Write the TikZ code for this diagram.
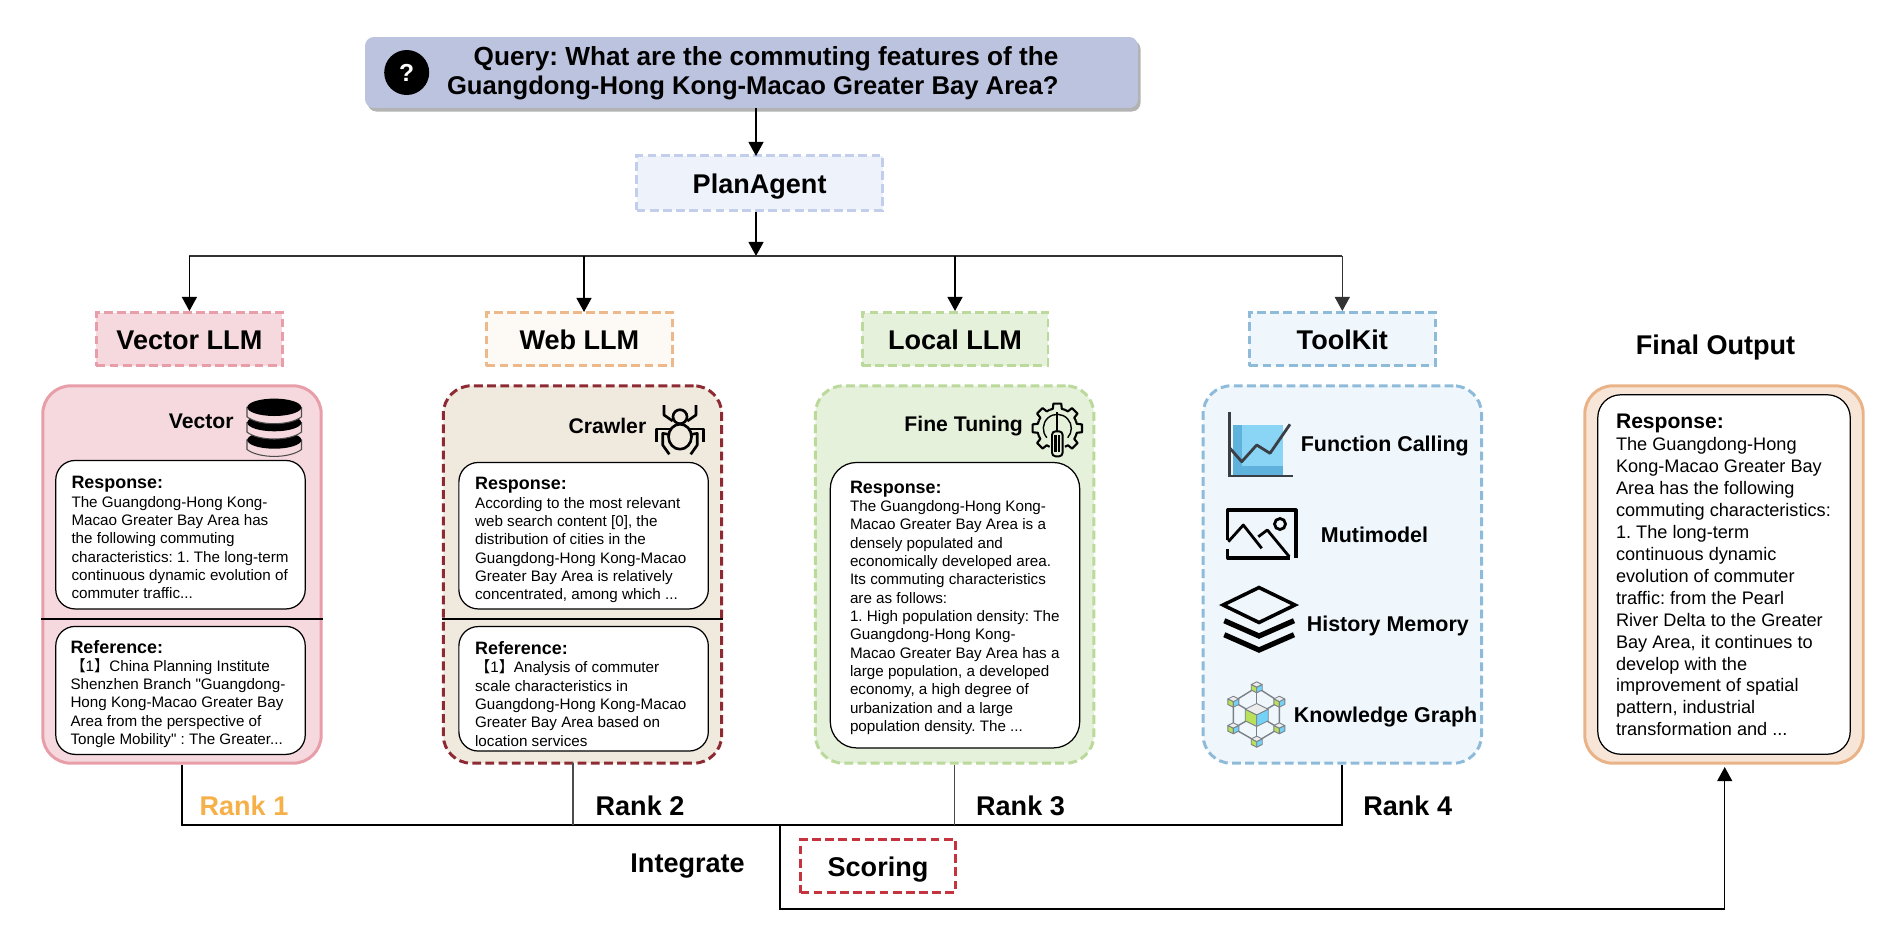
\documentclass[tikz,border=0pt]{standalone}
\usepackage{fontspec}
\setmainfont{Liberation Sans}
\newfontfamily\plainquote{Liberation Sans}
\newfontfamily\cjk{Noto Sans CJK SC}
\usetikzlibrary{arrows.meta,positioning,calc,shadows}
\frenchspacing

\definecolor{querybg}{HTML}{BCC3DF}
\definecolor{planbg}{HTML}{EEF2FB}
\definecolor{planedge}{HTML}{C3CEEC}
\definecolor{vecbg}{HTML}{F5D9DE}
\definecolor{vecedge}{HTML}{E79EA9}
\definecolor{webbg}{HTML}{FDF9F4}
\definecolor{webedge}{HTML}{EEB98A}
\definecolor{crawlbg}{HTML}{F0E9DE}
\definecolor{crawledge}{HTML}{8E2A33}
\definecolor{localbg}{HTML}{E5F1DA}
\definecolor{localedge}{HTML}{BAD99A}
\definecolor{toolbg}{HTML}{EFF7FC}
\definecolor{tooledge}{HTML}{8FBBDB}
\definecolor{finalbg}{HTML}{F7E6D8}
\definecolor{finaledge}{HTML}{E9B287}
\definecolor{scoreedge}{HTML}{C5333F}
\definecolor{rankone}{HTML}{F5B04A}
\definecolor{chartlight}{HTML}{8AD4F5}
\definecolor{chartdark}{HTML}{5FB2DC}
\definecolor{chartline}{HTML}{3A3F45}
\definecolor{cubegrey}{HTML}{7A8088}

% small cube of the knowledge graph: position, size
\newcommand{\kgcube}[2]{
  \begin{scope}[shift={(#1)}, line width=0.5pt, draw=cubegrey, line join=round]
    \filldraw[fill=gray!15] (0,-#2) -- (#2,-#2/2) -- (0,0) -- (-#2,-#2/2) -- cycle;
    \filldraw[fill=yellow!60!green!70] (-#2,-#2/2) -- (0,0) -- (0,#2) -- (-#2,#2/2) -- cycle;
    \filldraw[fill=cyan!55] (#2,-#2/2) -- (0,0) -- (0,#2) -- (#2,#2/2) -- cycle;
  \end{scope}
}

\begin{document}
\begin{tikzpicture}[
    x=0.02cm, y=-0.02cm,
    dashedge/.style={line width=1.7pt, dash pattern=on 5pt off 2.5pt},
    head/.style={font=\fontsize{15.4pt}{18pt}\bfseries\selectfont, text height=12pt, text depth=0pt},
    llmbox/.style={rectangle, draw, dashedge, head, minimum width=3.72cm, minimum height=1.06cm},
    panel/.style={rectangle, rounded corners=16pt, line width=1.7pt, minimum width=5.57cm, minimum height=7.55cm},
    respbox/.style={rectangle, draw, fill=white, line width=0.7pt, rounded corners=11pt, minimum width=4.99cm},
    resptext/.style={align=left, inner sep=0pt, font=\fontsize{8.65pt}{10.43pt}\selectfont},
    smallhead/.style={font=\fontsize{12.05pt}{14pt}\bfseries\selectfont},
    toollabel/.style={font=\fontsize{12.2pt}{14pt}\bfseries\selectfont},
    arrow/.style={-{Triangle[length=8pt, width=8.5pt]}, line width=0.9pt},
    rankline/.style={line width=1.1pt},
    thinline/.style={line width=0.6pt, black!70}
]

\useasboundingbox (0,0) rectangle (1882,940);

\newcommand{\resphead}{{\fontsize{10.2pt}{12pt}\bfseries\selectfont Response:}}
\newcommand{\refhead}{{\fontsize{10.2pt}{12pt}\bfseries\selectfont Reference:}}

% Query
\node[rectangle, fill=querybg, rounded corners=5pt, minimum width=15.46cm, minimum height=1.42cm,
    drop shadow={opacity=0.6, shadow xshift=1.5pt, shadow yshift=-2pt}] (query) at (751.5,72.5) {};
\node[circle, fill=black, text=white, minimum size=0.9cm, inner sep=0pt, font=\fontsize{14pt}{14pt}\bfseries\selectfont] (qmark) at (406.7,72.5) {?};
\node[anchor=east, align=right, inner sep=0pt, font=\fontsize{14.6pt}{16.7pt}\bfseries\selectfont] (qtext) at (1058.8,73) {{\fontsize{14.9pt}{16.7pt}\selectfont Query: What are the commuting features of the}\\Guangdong-Hong Kong-Macao Greater Bay Area?};

% Plan agent
\node[llmbox, fill=planbg, draw=planedge, minimum width=4.92cm, minimum height=1.1cm] (plan) at (759.6,183) {PlanAgent};

% LLM headers
\node[llmbox, fill=vecbg, draw=vecedge] (vecllm) at (189.4,339) {Vector LLM};
\node[llmbox, fill=webbg, draw=webedge] (webllm) at (579.4,339) {Web LLM};
\node[llmbox, fill=localbg, draw=localedge] (localllm) at (955,339) {Local LLM};
\node[llmbox, fill=toolbg, draw=tooledge] (toolllm) at (1342.3,339) {ToolKit};
\node[head] (finalhead) at (1715.5,344) {Final Output};

% Connectors at the top
\coordinate (planin) at (756,156);
\coordinate (topbus) at (756,256);
\coordinate (webin) at (584,312);
\draw[arrow] (planin |- query.south) -- (planin);
\draw[arrow] (planin |- plan.south) -- (topbus);
\draw[rankline, black!80] (vecllm.north |- topbus) -- (toolllm.north |- topbus);
\draw[arrow] (vecllm.north |- topbus) -- (vecllm.north);
\draw[arrow] (webin |- topbus) -- (webin);
\draw[arrow] (localllm.north |- topbus) -- (localllm.north);
\draw[arrow, black!80] (toolllm.north |- topbus) -- (toolllm.north);

% Panels
\node[panel, draw=vecedge, fill=vecbg] (vecpanel) at (182,574.5) {};
\node[panel, draw=crawledge, fill=crawlbg, dashedge] (webpanel) at (582.5,574.5) {};
\node[panel, draw=localedge, fill=localbg, dashedge] (localpanel) at (954.6,574.5) {};
\node[panel, draw=tooledge, fill=toolbg, dashedge] (toolpanel) at (1342.3,574.5) {};
\node[panel, draw=finaledge, fill=finalbg] (finalpanel) at (1724,574.5) {};

% Vector panel
\node[smallhead, anchor=east, inner sep=0pt] (veclabel) at (234,421.6) {Vector};
\node[respbox, minimum height=2.97cm] (vecresp) at (180.5,534.7) {};
\node[resptext, right=0.32cm of vecresp.west, yshift=-0.06cm] (vecresptext) {\resphead\\
The Guangdong-Hong Kong-\\Macao Greater Bay Area has\\the following commuting\\characteristics: 1. The long-term\\continuous dynamic evolution of\\commuter traffic...};
\coordinate (vecdiv) at (182,618.8);
\draw[line width=0.9pt] (vecpanel.west |- vecdiv) -- (vecpanel.east |- vecdiv);
\node[respbox, minimum height=2.56cm] (vecref) at (180.5,690.4) {};
\node[resptext, right=0.3cm of vecref.west, yshift=-0.07cm] (vecreftext) {\refhead\\
{\cjk【}1{\cjk】}China Planning Institute\\Shenzhen Branch {\plainquote"}Guangdong-\\Hong Kong-Macao Greater Bay\\Area from the perspective of\\Tongle Mobility{\plainquote"} : The Greater...};

% Database icon
\foreach \cy in {440, 422.6, 407.3} {
  \filldraw[fill=vecbg, draw=black!70, line width=0.6pt] (247,\cy) -- (247,\cy+9.5) .. controls (259,\cy+18.7) and (289.5,\cy+18.7) .. (301.5,\cy+9.5) -- (301.5,\cy) -- cycle;
  \fill[black] (274.3,\cy) ellipse [x radius=27, y radius=8.7];
}

% Crawler panel
\node[smallhead, anchor=east, inner sep=0pt] (weblabel) at (646.6,425.7) {Crawler};
\node[respbox, minimum height=2.93cm] (webresp) at (583.6,535.7) {};
\node[resptext, right=0.33cm of webresp.west, yshift=-0.09cm] (webresptext) {\resphead\\
According to the most relevant\\web search content [0], the\\distribution of cities in the\\Guangdong-Hong Kong-Macao\\Greater Bay Area is relatively\\concentrated, among which ...};
\coordinate (webdiv) at (582,618.8);
\draw[line width=0.9pt] (webpanel.west |- webdiv) -- (webpanel.east |- webdiv);
\node[respbox, minimum height=2.49cm] (webref) at (583.6,688.8) {};
\node[resptext, right=0.33cm of webref.west, yshift=-0.1cm] (webreftext) {\refhead\\
{\cjk【}1{\cjk】}Analysis of commuter\\scale characteristics in\\Guangdong-Hong Kong-Macao\\Greater Bay Area based on\\location services};

% Spider icon
\begin{scope}[shift={(680,432)}, line width=1.5pt, line join=round]
  \foreach \s in {1,-1} {
    \draw (\s*7.3,-11) -- (\s*16,-17) -- (\s*16,-27);
    \draw (\s*9,-3) -- (\s*23.3,-3) -- (\s*23.3,9.7);
    \draw (\s*8,3) -- (\s*17.3,1.3) -- (\s*17.3,13) -- (\s*10.7,22.3);
  }
  \draw[fill=crawlbg] (0,-15.3) circle (7);
  \draw[fill=crawlbg] (0,4.7) ellipse [x radius=11.5, y radius=12.5];
\end{scope}

% Fine tuning panel
\node[smallhead, anchor=east, inner sep=0pt] (locallabel) at (1023.2,425.7) {Fine Tuning};
\node[respbox, rounded corners=15pt, minimum height=5.71cm] (localresp) at (955,605.2) {};
\node[resptext, right=0.4cm of localresp.west, yshift=-0.05cm] (localresptext) {\resphead\\
The Guangdong-Hong Kong-\\Macao Greater Bay Area is a\\densely populated and\\economically developed area.\\Its commuting characteristics\\are as follows:\\1. High population density: The\\Guangdong-Hong Kong-\\Macao Greater Bay Area has a\\large population, a developed\\economy, a high degree of\\urbanization and a large\\population density. The ...};

% Gear icon
\begin{scope}[shift={(1057.3,428.3)}]
  \foreach \a in {-90,-45,0,45,135,180,225} {
    \draw[line width=1.2pt, line join=round] (\a-22.5:20) -- (\a-13:20) -- (\a-9:25) -- (\a+9:25) -- (\a+13:20) -- (\a+22.5:20);
  }
  \draw[line width=0.8pt] (-10.4,9.4) arc [start angle=138, end angle=402, radius=14];
  \draw[line width=1.1pt] (0,-16) -- (0,4);
  \filldraw[fill=localbg, rounded corners=2pt, line width=1.1pt] (-5.3,3) rectangle (5.3,28);
  \draw[line width=1.4pt] (-1.9,7) -- (-1.9,24) (1.9,7) -- (1.9,24);
\end{scope}

% Toolkit panel
\node[toollabel] (functool) at (1384.8,446) {Function Calling};
\node[toollabel] (mmtool) at (1374.5,534.5) {Mutimodel};
\node[toollabel] (histtool) at (1387.8,626) {History Memory};
\node[toollabel] (kgtool) at (1385.5,717) {Knowledge Graph};

% Chart icon
\fill[chartlight] (1232.7,425) rectangle (1282.7,476);
\fill[chartdark] (1232.7,425) rectangle (1241.7,476);
\fill[chartdark] (1232.7,465.7) rectangle (1282.7,476);
\draw[chartline, line width=1.6pt] (1229.3,411.7) -- (1229.3,476) -- (1293,476);
\draw[chartline, line width=1.6pt, line join=round] (1230,448.3) -- (1241.7,461.7) -- (1256.7,445) -- (1270,453.3) -- (1290,424.3);

% Image icon
\draw[line width=1.8pt, line join=round] (1227.7,540) -- (1227.7,510) -- (1296,510) -- (1296,558.3);
\draw[line width=1.8pt, line join=round] (1227.7,549) -- (1227.7,558) -- (1290,558);
\draw[line width=1.6pt, line join=round] (1228.3,541.7) -- (1243.3,525) -- (1261.7,548.3);
\draw[line width=1.6pt, line join=round] (1258.3,536.7) -- (1267.3,530) -- (1289.3,556.7);
\draw[line width=1.6pt] (1280,524) circle (5.5);

% Layers icon
\draw[line width=2pt, miter limit=10] (1259,587.5) -- (1295,605) -- (1259,622.5) -- (1223,605) -- cycle;
\draw[line width=3pt, miter limit=10] (1224.3,620.7) -- (1259,636) -- (1294,620.7);
\draw[line width=3pt, miter limit=10] (1224.3,634.7) -- (1259,650) -- (1294,634.7);

% Knowledge graph icon
\draw[cubegrey, line width=0.8pt] (1256.7,687.3) -- (1279.3,701.7) -- (1279.3,728.3) -- (1256.7,741.7) -- (1233.3,728.3) -- (1233.3,701.7) -- cycle;
\foreach \px/\py in {1256.7/687.3, 1279.3/701.7, 1279.3/728.3, 1256.7/741.7, 1233.3/728.3, 1233.3/701.7} {
  \draw[cubegrey, line width=0.8pt] (1256.7,715) -- (\px,\py);
  \kgcube{\px,\py}{5.5}
}
\kgcube{1256.7,715}{11.5}

% Final output panel
\node[respbox, rounded corners=13pt, minimum width=5.05cm, minimum height=7.19cm] (finalresp) at (1724,574.5) {};
\node[resptext, right=0.37cm of finalresp.west, yshift=-0.01cm, font=\fontsize{10.33pt}{12.5pt}\selectfont] (finaltext) {{\fontsize{12pt}{14pt}\bfseries\selectfont Response:}\\
The Guangdong-Hong\\Kong-Macao Greater Bay\\Area has the following\\commuting characteristics:\\1. The long-term\\continuous dynamic\\evolution of commuter\\traffic: from the Pearl\\River Delta to the Greater\\Bay Area, it continues to\\develop with the\\improvement of spatial\\pattern, industrial\\transformation and ...};

% Rank labels
\node[head, text=rankone] (rank1) at (244,805) {Rank 1};
\node[head] (rank2) at (640,805) {Rank 2};
\node[head] (rank3) at (1020.5,805) {Rank 3};
\node[head] (rank4) at (1407.7,805) {Rank 4};
\node[head] (integrate) at (687.6,862) {Integrate};
\node[llmbox, fill=white, draw=scoreedge, minimum width=3.1cm] (scoring) at (878,866) {Scoring};

% Connectors at the bottom
\coordinate (rankbus) at (760,825.3);
\coordinate (webout) at (573,763.3);
\coordinate (intout) at (780,825.3);
\coordinate (outcorner) at (1724.7,909);
\coordinate (finalin) at (1724.7,767);
\draw[rankline] (vecpanel.south) |- (toolpanel.south |- rankbus) -- (toolpanel.south);
\draw[thinline] (webout) -- (webout |- rankbus);
\draw[thinline] (localpanel.south) -- (localpanel.south |- rankbus);
\draw[arrow, line width=0.8pt] (intout) |- (outcorner) -- (finalin);

\end{tikzpicture}
\end{document}
